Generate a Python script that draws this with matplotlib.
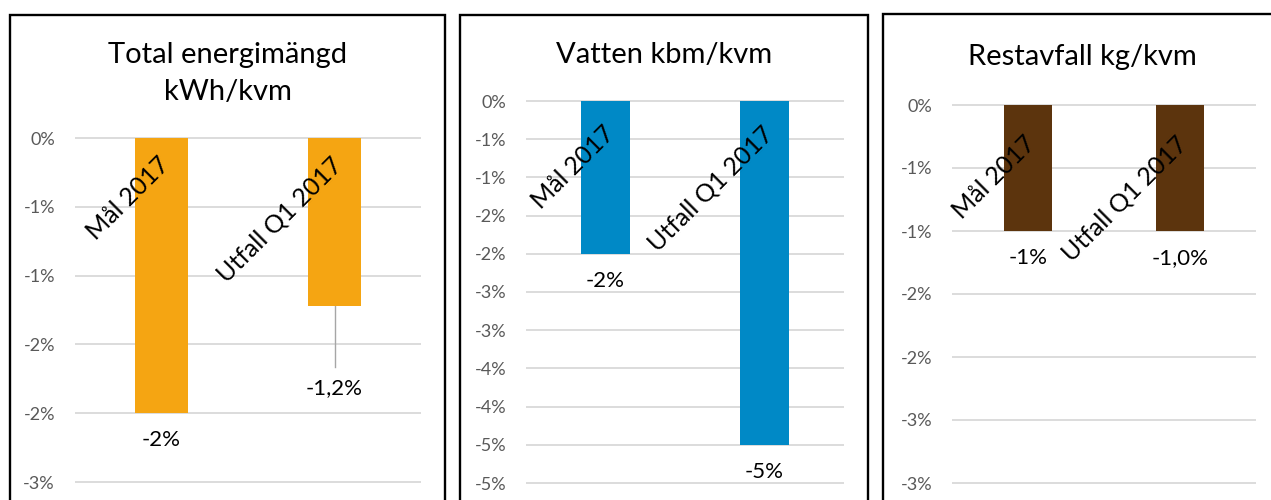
import matplotlib
matplotlib.use("Agg")
import matplotlib.pyplot as plt
from matplotlib.patches import Rectangle
import matplotlib.transforms as mtransforms
from decimal import Decimal, ROUND_HALF_UP

plt.rcParams['font.family'] = ['Lato', 'DejaVu Sans']

# ---- data ----
categories = ["Mål 2017", "Utfall Q1 2017"]
titles = [["Total energimängd", "kWh/kvm"], ["Vatten kbm/kvm"], ["Restavfall kg/kvm"]]
energy_values = [-2.0, -1.22]
water_values = [-2.0, -4.5]
waste_values = [-1.0, -1.0]
label_decimals = [[0, 1], [0, 0], [0, 1]]
tick_mins = [-2.5, -5.0, -3.0]
tick_step = 0.5
colors = ["#F5A512", "#0089C6", "#5C340D"]

values = [energy_values, water_values, waste_values]

W, H = 1271, 500
fig = plt.figure(figsize=(W / 100, H / 100), dpi=100)


def fmt(v, d):
    q = Decimal(1) if d == 0 else Decimal(1).scaleb(-d)
    r = Decimal(str(v)).quantize(q, rounding=ROUND_HALF_UP)
    s = f"{r}"
    if s in ("-0", "0"):
        s = "0"
    return s.replace(".", ",") + "%"


# layout (pixels)
boxes = [(10, 445, 15), (460, 868, 15), (883, 1290, 14)]
plot_x = [(75, 421), (526, 844), (952, 1256)]
tick_px = [(138, 482), (101, 483), (105, 483)]
title_x = [227.5, 664, 1082.5]
title_base = [[63, 100], [63], [65]]
label_drop_px = 27
cat_drop_px = [15, 21, 27]
cat_shift_px = [-4, -3, -5]
leader = [(1, 367, 388), None, None]  # (bar idx, line end px, label center px)

for i in range(3):
    x0, x1, top = boxes[i]
    fig.add_artist(Rectangle((x0 / W, -0.1), (x1 - x0) / W, 1.1 - top / H,
                             transform=fig.transFigure, fill=False,
                             edgecolor="black", linewidth=1.7))
    for j, line in enumerate(titles[i]):
        fig.text(title_x[i] / W, 1 - title_base[i][j] / H, line, ha="center",
                 va="baseline", fontsize=21, color="#000000")

    zero_px, min_px = tick_px[i]
    tmin = tick_mins[i]
    ppu = (min_px - zero_px) / (-tmin)
    top_px = zero_px - 8
    ax_bottom_px = H
    ax = fig.add_axes([plot_x[i][0] / W, 1 - ax_bottom_px / H,
                       (plot_x[i][1] - plot_x[i][0]) / W,
                       (ax_bottom_px - top_px) / H])
    ax.set_ylim(-(ax_bottom_px - zero_px) / ppu, (zero_px - top_px) / ppu)
    ax.set_xlim(-0.5, 1.5)
    n = int(round(-tmin / tick_step))
    ticks = [-k * tick_step for k in range(n + 1)]
    ax.set_yticks(ticks)
    ax.set_yticklabels([fmt(t, 0) for t in ticks])
    ax.tick_params(axis="y", length=0, pad=14.4, labelsize=13, labelcolor="#595959")
    ax.set_xticks([])
    for s in ax.spines.values():
        s.set_visible(False)
    ax.patch.set_alpha(0)
    ax.yaxis.grid(True, color="#D9D9D9", linewidth=1.3)
    ax.set_axisbelow(True)

    xs = list(range(len(categories)))
    ax.bar(xs, values[i], width=0.31, color=colors[i], zorder=2)

    for k, v in enumerate(values[i]):
        txt = fmt(v, label_decimals[i][k])
        if leader[i] is not None and leader[i][0] == k:
            _, end_px, lab_px = leader[i]
            y_end = -(end_px - zero_px) / ppu
            y_lab = -(lab_px - zero_px) / ppu
            ax.plot([k, k], [v, y_end], color="#A6A6A6", linewidth=1.0, zorder=1)
            ax.text(k, y_lab, txt, ha="center", va="center", fontsize=16, color="#000000")
        else:
            off = mtransforms.offset_copy(ax.transData, fig=fig, x=0,
                                          y=-label_drop_px * 0.72, units="points")
            ax.text(k, v, txt, ha="center", va="center", fontsize=16,
                    color="#000000", transform=off)

    for k, c in enumerate(categories):
        off = mtransforms.offset_copy(ax.transData, fig=fig, x=cat_shift_px[i] * 0.72,
                                      y=-cat_drop_px[i] * 0.72, units="points")
        ax.text(k, 0, c, rotation=45, rotation_mode="anchor", ha="right",
                va="top", fontsize=18, color="#000000", transform=off, zorder=3)

fig.savefig("out.png", dpi=100)
